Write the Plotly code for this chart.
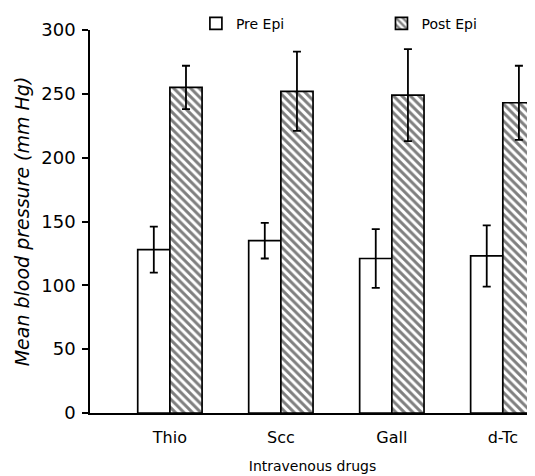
import plotly.graph_objects as go

drugs = ["Thio", "Scc", "Gall", "d-Tc"]
pre_epi = [128, 135, 121, 123]
pre_err = [18, 14, 23, 24]
post_epi = [255, 252, 249, 243]
post_err = [17, 31, 36, 29]
y_ticks = [0, 50, 100, 150, 200, 250, 300]

FONT = "DejaVu Sans"

fig = go.Figure()
fig.add_trace(go.Bar(
    name="Pre Epi", x=drugs, y=pre_epi, legend="legend",
    marker=dict(color="white", line=dict(color="black", width=1.7)),
    error_y=dict(type="data", array=pre_err, color="black", thickness=1.8, width=4),
))
fig.add_trace(go.Bar(
    name="Post Epi", x=drugs, y=post_epi, legend="legend2",
    marker=dict(color="white", line=dict(color="black", width=1.7),
                pattern=dict(shape="\\", fgcolor="black", bgcolor="white", size=6, solidity=0.5)),
    error_y=dict(type="data", array=post_err, color="black", thickness=1.8, width=4),
))

leg_common = dict(orientation="h", yanchor="middle", y=1.016,
                  font=dict(size=14, family=FONT), bgcolor="rgba(0,0,0,0)")

fig.update_layout(
    width=527, height=468,
    margin=dict(l=82, r=0, t=22, b=63, autoexpand=False),
    paper_bgcolor="white", plot_bgcolor="white",
    barmode="group", bargap=0.42, bargroupgap=0,
    font=dict(family=FONT, color="black"),
    showlegend=True,
    legend=dict(x=0.238, xanchor="left", **leg_common),
    legend2=dict(x=0.655, xanchor="left", **leg_common),
    xaxis=dict(range=[-0.72, 3.29], showline=True, linecolor="black", linewidth=1.6,
               ticks="", showgrid=False, zeroline=False, ticklabelstandoff=9,
               tickfont=dict(size=16, family=FONT),
               title=dict(text="Intravenous drugs", font=dict(size=14, family=FONT), standoff=15)),
    yaxis=dict(range=[0, 300], tickvals=y_ticks, showline=True, linecolor="black", linewidth=1.6,
               ticks="outside", ticklen=6, tickwidth=1.6, tickcolor="black",
               showgrid=False, zeroline=False, ticklabelstandoff=3,
               tickfont=dict(size=18, family=FONT),
               title=dict(text="<i>Mean blood pressure (mm Hg)</i>", font=dict(size=19, family=FONT), standoff=7)),
)

fig.write_html("out.html")
